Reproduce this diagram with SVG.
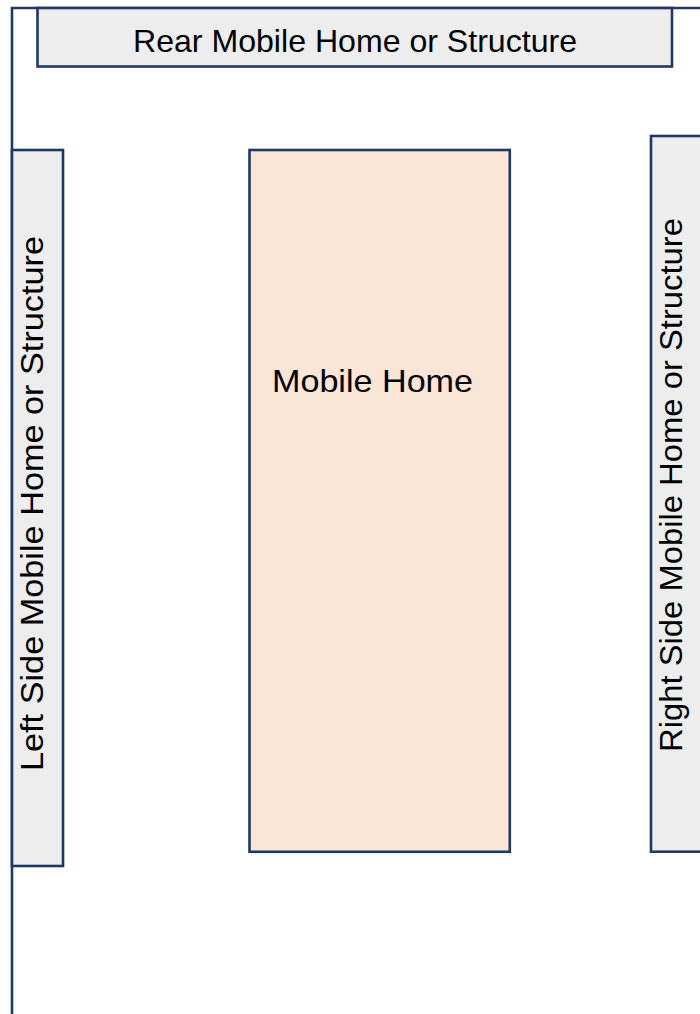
<svg xmlns="http://www.w3.org/2000/svg" width="700" height="1014" viewBox="0 0 700 1014">
<style>
.box{fill:#EDEDED;stroke:#1F3864;stroke-width:2.6}
.home{fill:#FBE5D6;stroke:#1F3864;stroke-width:2.6}
.frame{fill:none;stroke:#1F3864;stroke-width:2.6}
.lbl{font-family:"Liberation Sans",Arial,sans-serif;font-size:32px;fill:#000}
</style>
<rect x="0" y="0" width="700" height="1014" fill="#FFFFFF"/>
<g id="connectors">
<path class="frame" d="M12 1014 V8 H700"/>
</g>
<g id="rear">
<rect class="box" x="37.5" y="8" width="634.5" height="58.5"/>
<text class="lbl" x="355" y="51.7" text-anchor="middle" textLength="444" lengthAdjust="spacingAndGlyphs">Rear Mobile Home or Structure</text>
</g>
<g id="left">
<rect class="box" x="12" y="150" width="51" height="716"/>
<text class="lbl" transform="translate(43 503.5) rotate(-90)" x="0" y="0" text-anchor="middle" textLength="535" lengthAdjust="spacingAndGlyphs">Left Side Mobile Home or Structure</text>
</g>
<g id="home">
<rect class="home" x="249.5" y="150" width="260.3" height="701.8"/>
<text class="lbl" x="372.5" y="392.3" text-anchor="middle" textLength="201" lengthAdjust="spacingAndGlyphs">Mobile Home</text>
</g>
<g id="right">
<rect class="box" x="651" y="136" width="60" height="715.7"/>
<text class="lbl" transform="translate(682 485) rotate(-90)" x="0" y="0" text-anchor="middle" textLength="534" lengthAdjust="spacingAndGlyphs">Right Side Mobile Home or Structure</text>
</g>
</svg>
